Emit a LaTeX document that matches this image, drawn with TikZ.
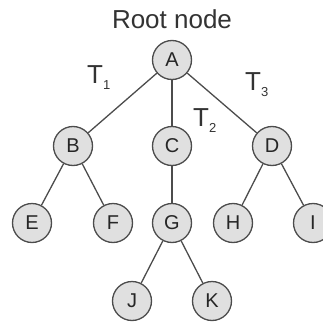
\documentclass[tikz,border=0pt]{standalone}
\usepackage{fontspec}
\setmainfont{Liberation Sans}
\newcommand{\mysub}[1]{\raisebox{-6pt}{\fontsize{13}{13}\selectfont #1}}
\begin{document}
\begin{tikzpicture}[x=1pt,y=-1pt,
  tnode/.style={circle,draw=black!70,fill=black!12,line width=1.3pt,minimum size=39pt,inner sep=0pt,font=\fontsize{20}{20}\selectfont,text=black!85},
  edge/.style={draw=black!70,line width=1.3pt},
  lab/.style={font=\fontsize{26}{26}\selectfont,text=black!80,inner sep=0pt}]
\useasboundingbox (0,0) rectangle (323,324);
\node[lab] (title) at (172,19) {Root node};
\node[tnode] (A) at (172,60) {A};
\node[tnode] (B) at (73,146) {B};
\node[tnode] (C) at (172,146) {C};
\node[tnode] (D) at (272,146) {D};
\node[tnode] (E) at (32,223) {E};
\node[tnode] (F) at (113,223) {F};
\node[tnode] (G) at (172,223) {G};
\node[tnode] (H) at (233,223) {H};
\node[tnode] (I) at (313,223) {I};
\node[tnode] (J) at (132,301) {J};
\node[tnode] (K) at (212,301) {K};
\draw[edge] (A) -- (B);
\draw[edge] (A) -- (C);
\draw[edge] (A) -- (D);
\draw[edge] (B) -- (E);
\draw[edge] (B) -- (F);
\draw[edge] (C) -- (G);
\draw[edge] (D) -- (H);
\draw[edge] (D) -- (I);
\draw[edge] (G) -- (J);
\draw[edge] (G) -- (K);
\node[lab,anchor=west] (t1) at (87,78) {T\mysub{1}};
\node[lab,anchor=west] (t2) at (193,121) {T\mysub{2}};
\node[lab,anchor=west] (t3) at (245,85) {T\mysub{3}};
\end{tikzpicture}
\end{document}
